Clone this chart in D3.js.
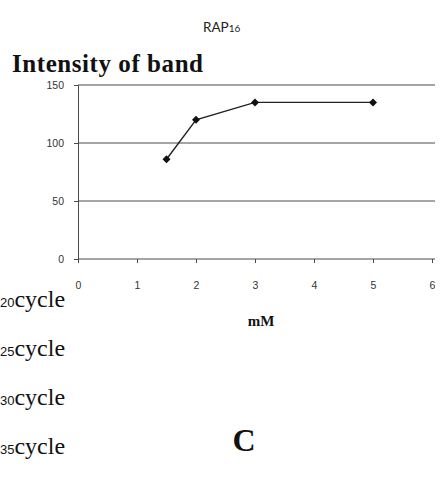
<!DOCTYPE html>
<html>
<head>
<meta charset="utf-8">
<script src="https://cdn.jsdelivr.net/npm/d3@7"></script>
<style>
  html, body { margin: 0; padding: 0; background: #fff; }
  svg { display: block; }
</style>
</head>
<body>
<svg id="chart" width="440" height="483"></svg>
<script>
// Band intensity versus concentration (mM)
const concentrations = [1.5, 2, 3, 5];
const intensities = [86, 120, 135, 135];
const xTicks = [0, 1, 2, 3, 4, 5, 6];
const yTicks = [0, 50, 100, 150];
const cycleNumbers = ["20", "25", "30", "35"];

const svg = d3.select("#chart");
const plot = { left: 78, right: 432, top: 85, bottom: 259 };

const x = d3.scaleLinear().domain([0, 6]).range([plot.left, plot.right]);
const y = d3.scaleLinear().domain([0, 150]).range([plot.bottom, plot.top]);

const ink = "#222";
const gridInk = "#4a4a4a";

// Header
const head = svg.append("text")
  .attr("x", 203).attr("y", 32)
  .attr("font-family", "Lato, 'Open Sans', sans-serif")
  .attr("font-size", 13.5).attr("fill", ink);
head.append("tspan").text("RAP");
head.append("tspan").attr("font-size", 10).text("16");

// Y axis title
svg.append("text")
  .attr("x", 12).attr("y", 72)
  .attr("font-family", "'Liberation Serif', 'Times New Roman', serif")
  .attr("font-weight", "bold").attr("font-size", 25)
  .attr("fill", "#111")
  .attr("textLength", 191).attr("lengthAdjust", "spacing")
  .text("Intensity of band");

// Horizontal gridlines
svg.append("g")
  .selectAll("line")
  .data(yTicks)
  .join("line")
  .attr("x1", plot.left).attr("x2", plot.right + 3)
  .attr("y1", d => y(d)).attr("y2", d => y(d))
  .attr("stroke", gridInk).attr("stroke-width", 1);

// Y axis
const yAxis = svg.append("g")
  .attr("transform", `translate(${plot.left},0)`)
  .call(d3.axisLeft(y).tickValues(yTicks).tickSize(4).tickPadding(10));
yAxis.select(".domain").attr("stroke", gridInk);
yAxis.selectAll(".tick line").attr("stroke", gridInk);
yAxis.selectAll("text")
  .attr("font-family", "'Liberation Sans', Arial, sans-serif")
  .attr("font-size", 10.5).attr("fill", "#333");

// X axis
const xAxis = svg.append("g")
  .attr("transform", `translate(0,${plot.bottom})`)
  .call(d3.axisBottom(x).tickValues(xTicks).tickFormat(d3.format("d"))
    .tickSize(4).tickPadding(19));
xAxis.select(".domain").remove();
xAxis.selectAll(".tick line").attr("stroke", gridInk);
xAxis.selectAll("text")
  .attr("font-family", "'Liberation Sans', Arial, sans-serif")
  .attr("font-size", 10.5).attr("fill", "#333");

// X axis title
svg.append("text")
  .attr("x", 261).attr("y", 326)
  .attr("text-anchor", "middle")
  .attr("font-family", "'Liberation Serif', 'Times New Roman', serif")
  .attr("font-weight", "bold").attr("font-size", 15)
  .attr("fill", "#111")
  .text("mM");

// Data line and diamond markers
const pts = concentrations.map((c, i) => [c, intensities[i]]);
svg.append("path")
  .datum(pts)
  .attr("fill", "none").attr("stroke", ink).attr("stroke-width", 1.4)
  .attr("d", d3.line().x(d => x(d[0])).y(d => y(d[1])));

svg.append("g")
  .selectAll("path")
  .data(pts)
  .join("path")
  .attr("d", d3.symbol().type(d3.symbolSquare).size(32))
  .attr("transform", d => `translate(${x(d[0])},${y(d[1])}) rotate(45)`)
  .attr("fill", "#111");

// Cycle labels down the left margin
const cycleY = d3.scalePoint().domain(cycleNumbers).range([307, 454]);
const cyc = svg.append("g")
  .selectAll("text")
  .data(cycleNumbers)
  .join("text")
  .attr("x", 0).attr("y", d => cycleY(d))
  .attr("fill", "#111");
cyc.append("tspan")
  .attr("font-family", "'Liberation Sans', Arial, sans-serif")
  .attr("font-size", 13).text(d => d);
cyc.append("tspan")
  .attr("font-family", "'Liberation Serif', 'Times New Roman', serif")
  .attr("font-size", 24).text("cycle");

// Panel letter
svg.append("text")
  .attr("x", 244).attr("y", 451)
  .attr("text-anchor", "middle")
  .attr("font-family", "'Liberation Serif', 'Times New Roman', serif")
  .attr("font-weight", "bold").attr("font-size", 32)
  .attr("fill", "#111")
  .text("C");
</script>
</body>
</html>
